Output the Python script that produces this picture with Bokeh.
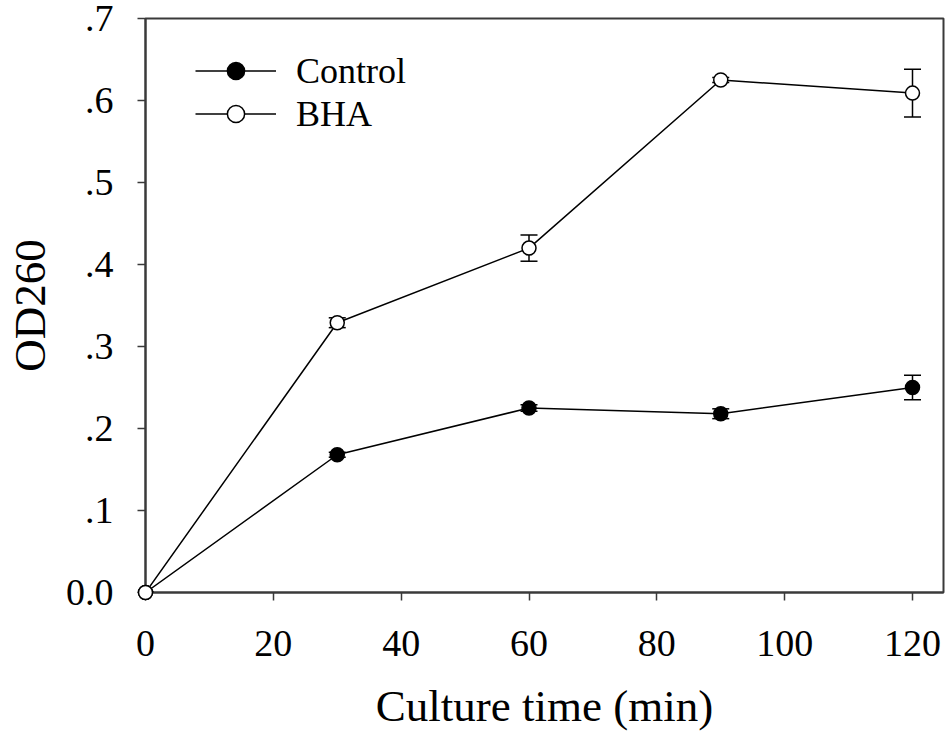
from bokeh.plotting import figure
from bokeh.models import (ColumnDataSource, Whisker, TeeHead, FixedTicker,
                          CustomJSTickFormatter, Legend, LegendItem, Range1d)
from bokeh.embed import file_html
from bokeh.resources import INLINE

# ---- data ----
time_min = [0, 30, 60, 90, 120]
control = [0.0, 0.168, 0.225, 0.218, 0.250]
control_err = [0.0, 0.003, 0.004, 0.006, 0.015]
bha = [0.0, 0.329, 0.420, 0.625, 0.609]
bha_err = [0.0, 0.006, 0.016, 0.003, 0.029]

x_ticks = [0, 20, 40, 60, 80, 100, 120]
y_ticks = [0.0, 0.1, 0.2, 0.3, 0.4, 0.5, 0.6, 0.7]

FONT = "Liberation Serif"

src_c = ColumnDataSource(dict(
    x=time_min, y=control,
    lo=[v - e for v, e in zip(control, control_err)],
    hi=[v + e for v, e in zip(control, control_err)]))
src_b = ColumnDataSource(dict(
    x=time_min, y=bha,
    lo=[v - e for v, e in zip(bha, bha_err)],
    hi=[v + e for v, e in zip(bha, bha_err)]))

p = figure(frame_width=798, frame_height=574,
           min_border_left=145, min_border_right=4,
           min_border_top=18, min_border_bottom=148,
           x_range=Range1d(0, 124.85), y_range=Range1d(0, 0.7),
           output_backend="svg", toolbar_location=None,
           background_fill_color="white", border_fill_color="white")

p.grid.visible = False
p.outline_line_color = "#3a3a3a"
p.outline_line_width = 2

for ax in (p.xaxis[0], p.yaxis[0]):
    ax.axis_line_color = "#3a3a3a"
    ax.axis_line_width = 2
    ax.major_tick_line_color = "#3a3a3a"
    ax.major_tick_line_width = 1.5
    ax.major_tick_in = 0
    ax.major_tick_out = 8
    ax.minor_tick_line_color = None
    ax.major_label_text_font = FONT
    ax.major_label_text_font_size = "38px"
    ax.major_label_text_color = "black"
    ax.axis_label_text_font = FONT
    ax.axis_label_text_font_size = "45px"
    ax.axis_label_text_font_style = "normal"
    ax.axis_label_text_color = "black"

p.xaxis.ticker = FixedTicker(ticks=x_ticks)
p.yaxis.ticker = FixedTicker(ticks=y_ticks)
p.yaxis.formatter = CustomJSTickFormatter(
    code="return tick < 0.05 ? '0.0' : tick.toFixed(1).replace(/^0/, '');")
p.xaxis.major_label_standoff = 30
p.yaxis.major_label_standoff = 24
p.xaxis.axis_label = "Culture time (min)"
p.yaxis.axis_label = "OD260"
p.xaxis.axis_label_standoff = 22
p.yaxis.axis_label_standoff = 8

# error bars
for src in (src_c, src_b):
    w = Whisker(source=src, base="x", lower="lo", upper="hi",
                line_color="black", line_width=1.5,
                upper_head=TeeHead(size=17, line_color="black", line_width=1.5),
                lower_head=TeeHead(size=17, line_color="black", line_width=1.5))
    p.add_layout(w)

lc = p.line("x", "y", source=src_c, line_color="black", line_width=1.5)
lb = p.line("x", "y", source=src_b, line_color="black", line_width=1.5)
mc = p.scatter("x", "y", source=src_c, size=14, fill_color="black",
               line_color="black", line_width=1.5, level="overlay")
mb = p.scatter("x", "y", source=src_b, size=14, fill_color="white",
               line_color="black", line_width=1.5, level="overlay")

legend = Legend(items=[LegendItem(label="Control", renderers=[lc, mc]),
                       LegendItem(label="BHA", renderers=[lb, mb])],
                location=(50, 457), orientation="vertical",
                glyph_width=81, glyph_height=43, label_height=43,
                spacing=0, padding=0, margin=0, label_standoff=20,
                label_text_font=FONT, label_text_font_size="36px",
                label_text_color="black",
                border_line_color=None, background_fill_alpha=0)
p.add_layout(legend)

open("out.html", "w").write(file_html(p, INLINE))
